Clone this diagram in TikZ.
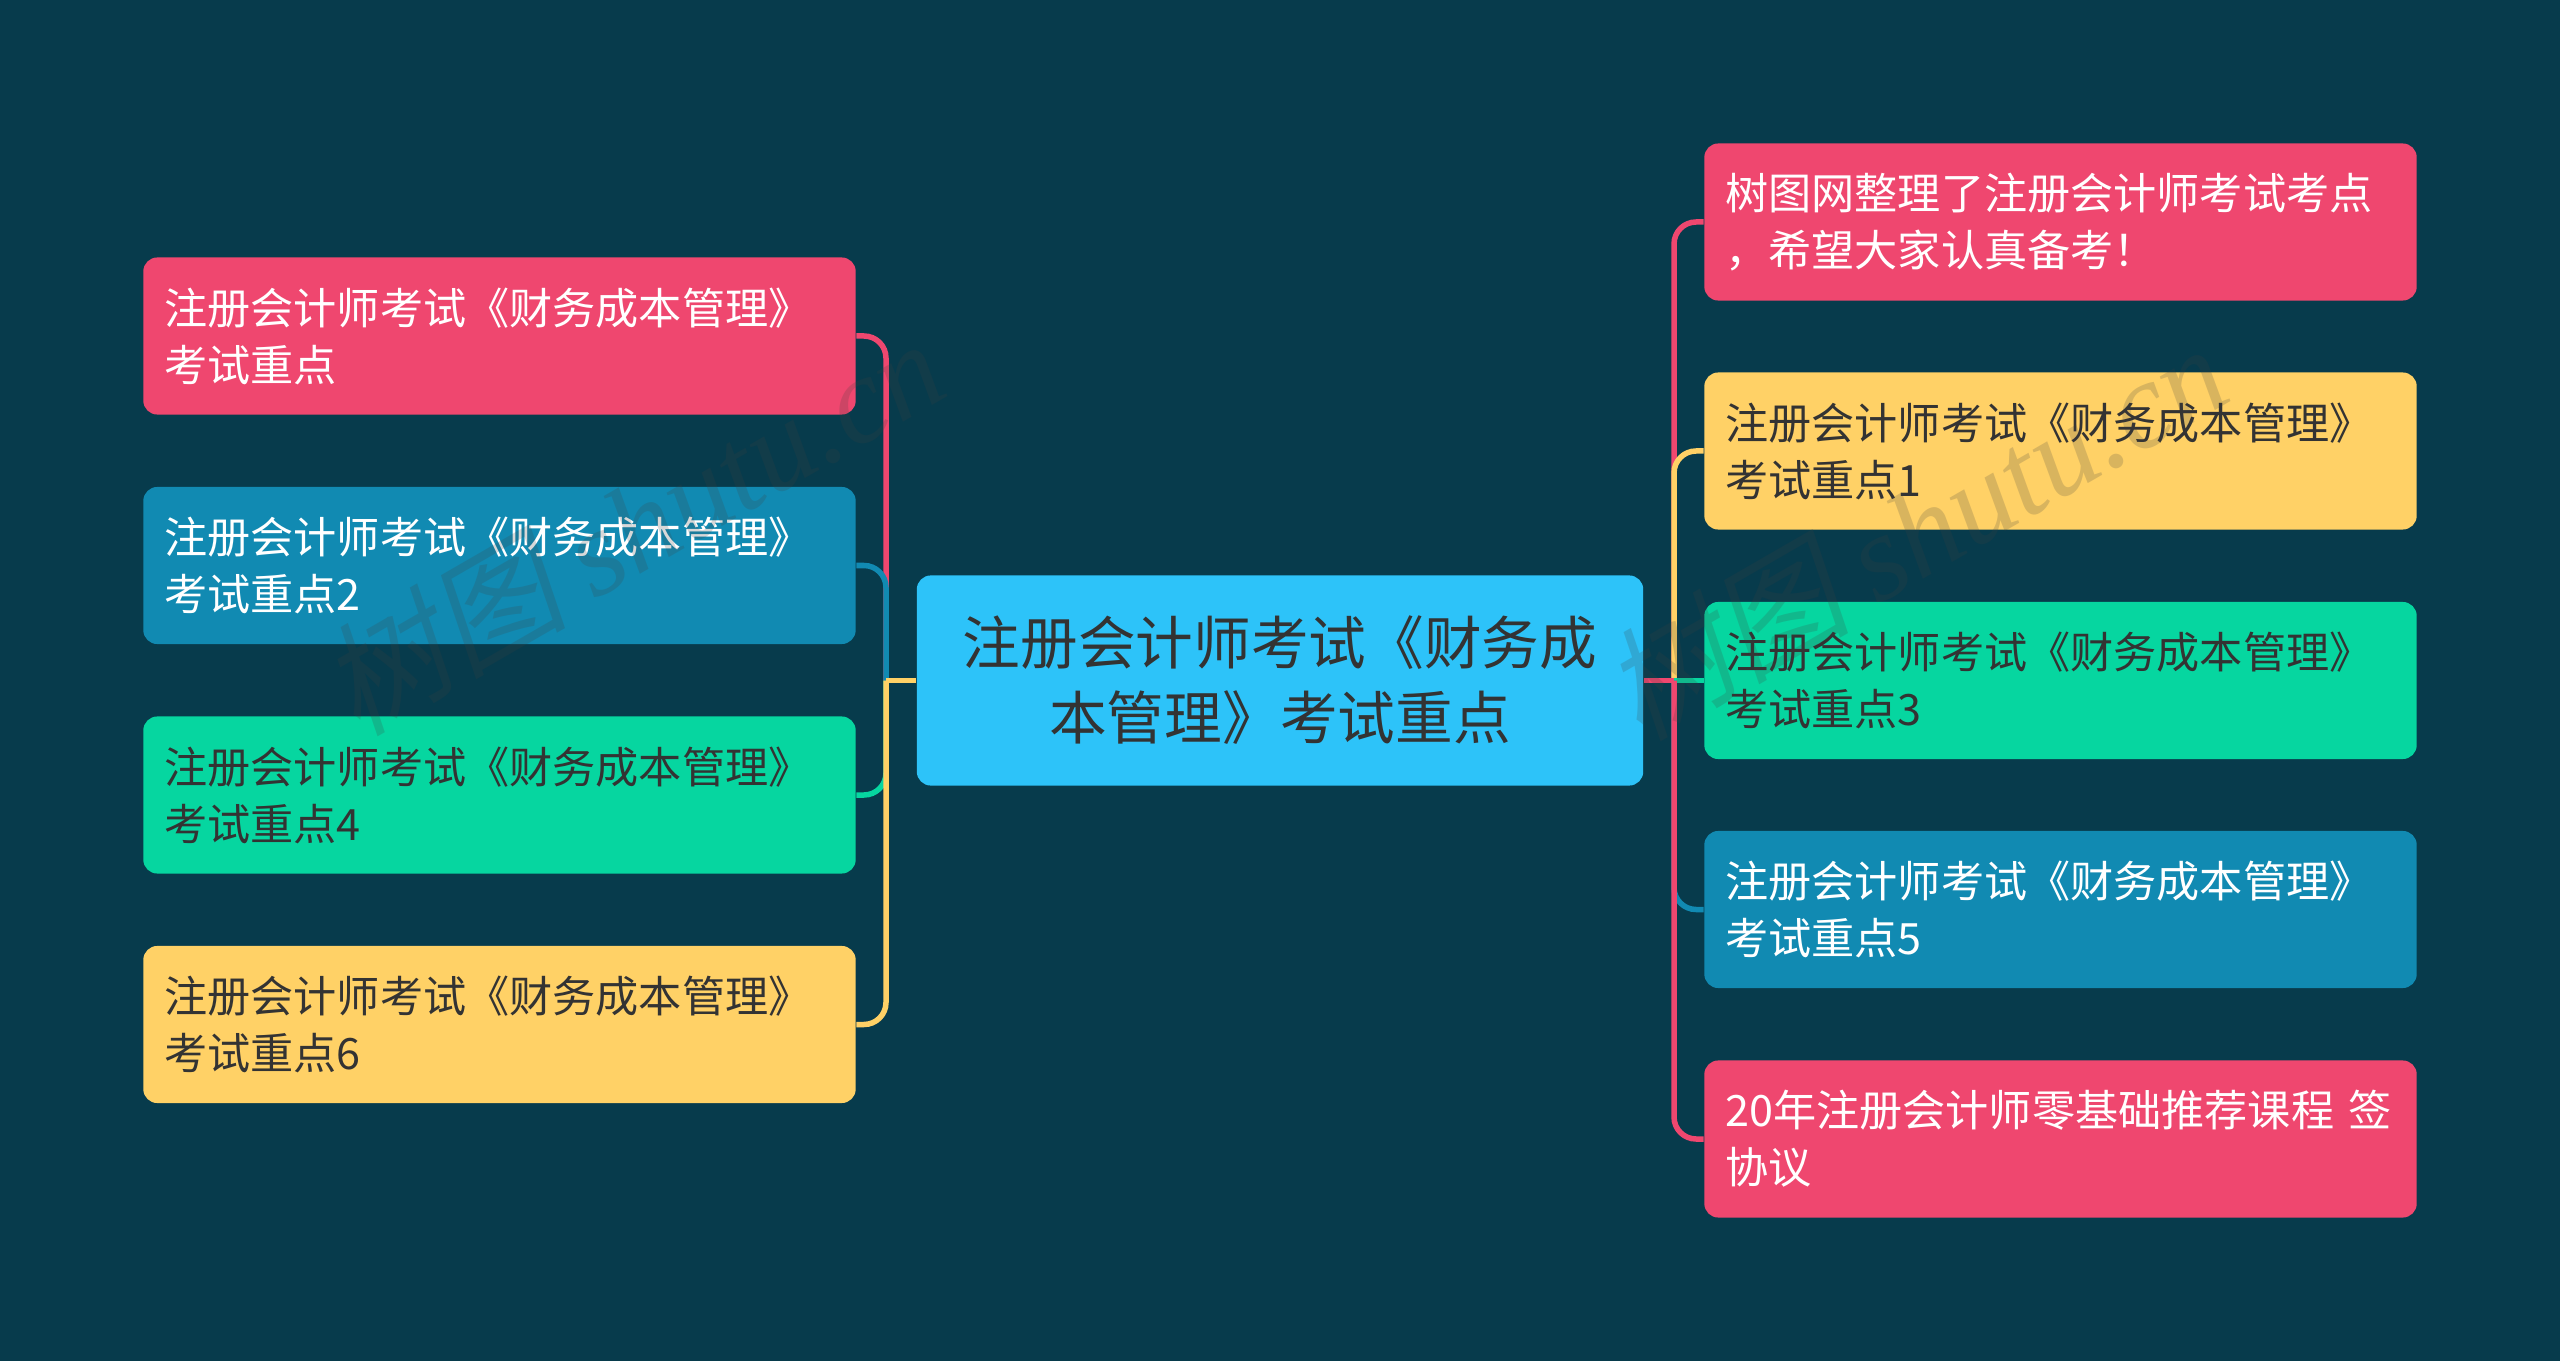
\documentclass[tikz,border=0pt]{standalone}
\usepackage{fontspec}
\setmainfont{Noto Sans CJK SC}
\newfontfamily\markcjk[FakeSlant=0.2]{Noto Sans CJK SC}
\newfontfamily\marklatin{Liberation Serif}
\definecolor{bgcol}{HTML}{073B4C}
\definecolor{rootcol}{HTML}{2DC3F9}
\definecolor{pinkcol}{HTML}{EF476F}
\definecolor{bluecol}{HTML}{118AB2}
\definecolor{greencol}{HTML}{06D6A0}
\definecolor{yellowcol}{HTML}{FFD166}
\definecolor{inkcol}{HTML}{333333}

\begin{document}
\begin{tikzpicture}[x=.01cm,y=-.01cm,
  leaf/.style={rounded corners=.14cm,text width=6.70cm,minimum height=1.57cm,inner xsep=.21cm,inner ysep=0pt,align=left,font=\fontsize{12.27}{16.2}\selectfont},
  centre/.style={rounded corners=.14cm,text width=7.26cm,minimum height=2.1cm,inner xsep=0pt,inner ysep=0pt,align=center,fill=rootcol,text=inkcol,font=\fontsize{16.4}{21.3}\selectfont},
  link/.style={line width=.055cm},
  curved/.style={line width=.055cm,rounded corners=.22cm},
  wmark/.style={rotate=30,opacity=.2,text=black!75,font=\fontsize{35}{35}\selectfont}]
  \useasboundingbox (0,0) rectangle (2560,1361);
  \fill[bgcol] (0,0) rectangle (2560,1361);

  \node[centre] (root) at (1280,680.5) {注册会计师考试《财务成\\本管理》考试重点};

  \node[leaf,fill=pinkcol,text=white] (l1) at (499.5,336) {注册会计师考试《财务成本管理》\\考试重点};
  \node[leaf,fill=bluecol,text=white] (l2) at (499.5,565.5) {注册会计师考试《财务成本管理》\\考试重点2};
  \node[leaf,fill=greencol,text=inkcol] (l3) at (499.5,795) {注册会计师考试《财务成本管理》\\考试重点4};
  \node[leaf,fill=yellowcol,text=inkcol] (l4) at (499.5,1024.5) {注册会计师考试《财务成本管理》\\考试重点6};

  \node[leaf,fill=pinkcol,text=white] (r1) at (2060.5,222) {树图网整理了注册会计师考试考点\\，希望大家认真备考！};
  \node[leaf,fill=yellowcol,text=inkcol] (r2) at (2060.5,451) {注册会计师考试《财务成本管理》\\考试重点1};
  \node[leaf,fill=greencol,text=inkcol] (r3) at (2060.5,680.5) {注册会计师考试《财务成本管理》\\考试重点3};
  \node[leaf,fill=bluecol,text=white] (r4) at (2060.5,909.5) {注册会计师考试《财务成本管理》\\考试重点5};
  \node[leaf,fill=pinkcol,text=white] (r5) at (2060.5,1139) {20年注册会计师零基础推荐课程 签\\协议};

  \coordinate (jl) at (886,680.5);
  \coordinate (jr) at (1674,680.5);

  \draw[curved,pinkcol] (jl) |- (l1.east);
  \draw[curved,bluecol] (jl) |- (l2.east);
  \draw[curved,greencol] (jl) |- (l3.east);
  \draw[curved,yellowcol] (jl) |- (l4.east);
  \draw[link,yellowcol] (root.west) -- (jl);

  \draw[curved,pinkcol] (jr) |- (r1.west);
  \draw[curved,yellowcol] (jr) |- (r2.west);
  \draw[link,greencol] (jr) -- (r3.west);
  \draw[curved,bluecol] (jr) |- (r4.west);
  \draw[curved,pinkcol] (jr) |- (r5.west);
  \draw[link,pinkcol] (root.east) -- (jr);

  \node[wmark] (wm1) at (632,525) {\markcjk 树图 \marklatin\itshape shutu.cn};
  \node[wmark] (wm2) at (1915,530) {\markcjk 树图 \marklatin\itshape shutu.cn};
\end{tikzpicture}
\end{document}
